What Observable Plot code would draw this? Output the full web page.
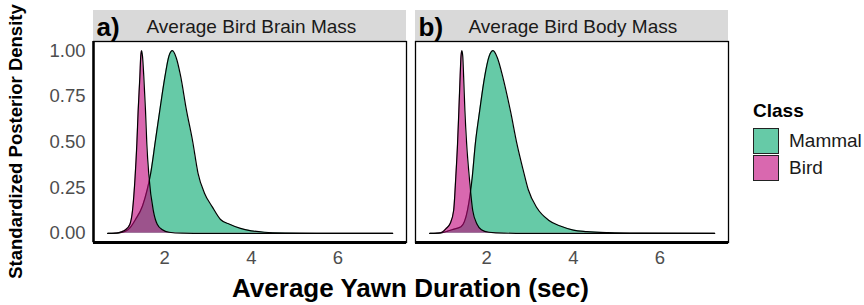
<!DOCTYPE html>
<html>
<head>
<meta charset="utf-8">
<script src="https://cdn.jsdelivr.net/npm/d3@7"></script>
<script src="https://cdn.jsdelivr.net/npm/@observablehq/plot@0.6"></script>
<style>
  html, body { margin: 0; padding: 0; background: #fff; }
  body { font-family: "Liberation Sans", Arial, Helvetica, sans-serif; }
  #wrap { position: relative; width: 864px; height: 305px; }
  #legend { position: absolute; left: 753px; top: 100px; font-size: 19px; color: #1a1a1a; }
  #legend .ttl { font-weight: bold; color: #000; margin-bottom: 5px; }
  #legend .row { display: flex; align-items: center; height: 27px; }
  #legend .sw { width: 26px; height: 26px; box-sizing: border-box; border: 1.3px solid #222; margin-right: 10px; background: #fff; position: relative; }
  #legend .sw i { position: absolute; inset: 0; }
</style>
</head>
<body>
<div id="wrap"><div id="chart"></div><div id="legend"></div></div>
<script>
// ---- data ----
const panels = ["a", "b"];
const panelTags = ["a)", "b)"];
const panelTitles = ["Average Bird Brain Mass", "Average Bird Body Mass"];
const classes = ["Mammal", "Bird"];
const xTicks = [2, 4, 6];
const yTicks = [0, 0.25, 0.5, 0.75, 1];

// Panel a: Average Bird Brain Mass
const brainMammalX = [0.69, 0.95, 1.1, 1.2, 1.33, 1.49, 1.6, 1.68, 1.79, 1.9, 2.01, 2.1, 2.18, 2.27, 2.37, 2.5, 2.65, 2.77, 2.92, 3.1, 3.29, 3.5, 3.75, 4.0, 4.3, 4.8, 5.5, 7.26];
const brainMammalY = [0, 0.003, 0.012, 0.03, 0.076, 0.15, 0.24, 0.33, 0.51, 0.69, 0.86, 0.97, 1.0, 0.96, 0.86, 0.68, 0.5, 0.33, 0.22, 0.145, 0.076, 0.05, 0.027, 0.014, 0.006, 0.002, 0.0005, 0];
const brainBirdX = [0.69, 0.9, 1.0, 1.1, 1.2, 1.26, 1.32, 1.36, 1.39, 1.43, 1.45, 1.47, 1.49, 1.52, 1.56, 1.59, 1.64, 1.74, 1.83, 1.95, 2.1, 2.4, 3.0, 7.26];
const brainBirdY = [0, 0.002, 0.008, 0.02, 0.05, 0.125, 0.31, 0.49, 0.67, 0.86, 0.97, 1.0, 0.97, 0.86, 0.67, 0.49, 0.31, 0.125, 0.05, 0.02, 0.006, 0.001, 0, 0];

// Panel b: Average Bird Body Mass
const bodyMammalX = [0.69, 0.95, 1.1, 1.2, 1.41, 1.56, 1.67, 1.74, 1.84, 1.95, 2.06, 2.15, 2.25, 2.38, 2.55, 2.7, 2.84, 2.96, 3.16, 3.43, 3.7, 4.0, 4.31, 4.8, 5.5, 7.26];
const bodyMammalY = [0, 0.003, 0.012, 0.02, 0.036, 0.127, 0.31, 0.49, 0.67, 0.85, 0.97, 1.0, 0.96, 0.85, 0.67, 0.49, 0.35, 0.24, 0.14, 0.072, 0.04, 0.018, 0.01, 0.004, 0.001, 0];
const bodyBirdX = [0.69, 0.9, 0.98, 1.06, 1.16, 1.24, 1.29, 1.33, 1.36, 1.39, 1.41, 1.43, 1.45, 1.47, 1.5, 1.54, 1.6, 1.68, 1.78, 1.88, 2.05, 2.4, 3.0, 7.26];
const bodyBirdY = [0, 0.002, 0.008, 0.025, 0.054, 0.125, 0.31, 0.49, 0.67, 0.86, 0.97, 1.0, 0.97, 0.86, 0.67, 0.49, 0.31, 0.125, 0.05, 0.02, 0.006, 0.001, 0, 0];

// ---- build table ----
const series = [
  {panel: "a", cls: "Mammal", xs: brainMammalX, ys: brainMammalY},
  {panel: "a", cls: "Bird", xs: brainBirdX, ys: brainBirdY},
  {panel: "b", cls: "Mammal", xs: bodyMammalX, ys: bodyMammalY},
  {panel: "b", cls: "Bird", xs: bodyBirdX, ys: bodyBirdY}
];
const rows = series.flatMap(s => s.xs.map((x, i) => ({panel: s.panel, cls: s.cls, x, y: s.ys[i]})));
const mammalRows = rows.filter(d => d.cls === "Mammal");
const birdRows = rows.filter(d => d.cls === "Bird");
const strips = panels.map((p, i) => ({panel: p, tag: panelTags[i], title: panelTitles[i]}));

const green = "#66CAA7";
const pinkBase = "#C0047A";
const pinkOpacity = 0.6;

const xDomain = [0.36, 7.58];
const yDomain = [-0.05, 1.05];
const marginTop = 41, marginBottom = 63, height = 305;
const stripPx = 31;
const yPerPx = (yDomain[1] - yDomain[0]) / (height - marginTop - marginBottom);
const stripTop = yDomain[1] + stripPx * yPerPx;

const chart = Plot.plot({
  width: 864,
  height,
  marginLeft: 93,
  marginRight: 136,
  marginTop,
  marginBottom,
  style: {fontFamily: "Liberation Sans, Arial, Helvetica, sans-serif", background: "#fff"},
  fx: {domain: panels, paddingInner: 0.028, paddingOuter: 0, axis: null, label: null},
  x: {domain: xDomain, label: null},
  y: {domain: yDomain, label: null},
  marks: [
    Plot.rect(strips, {fx: "panel", x1: () => xDomain[0], x2: () => xDomain[1], y1: () => yDomain[1], y2: () => stripTop, fill: "#D9D9D9"}),
    Plot.areaY(mammalRows, {fx: "panel", x: "x", y: "y", fill: green, curve: "monotone-x"}),
    Plot.lineY(mammalRows, {fx: "panel", x: "x", y: "y", stroke: "#000", strokeWidth: 1.2, curve: "monotone-x"}),
    Plot.areaY(birdRows, {fx: "panel", x: "x", y: "y", fill: pinkBase, fillOpacity: pinkOpacity, curve: "monotone-x"}),
    Plot.lineY(birdRows, {fx: "panel", x: "x", y: "y", stroke: "#000", strokeWidth: 1.2, curve: "monotone-x"}),
    Plot.frame({stroke: "#000", strokeWidth: 1.3}),
    Plot.ruleY([yDomain[0]], {stroke: "#000", strokeWidth: 3}),
    Plot.ruleX(strips.filter(d => d.panel === "a"), {fx: "panel", x: () => xDomain[0], stroke: "#000", strokeWidth: 2.5}),
    Plot.text(strips, {fx: "panel", text: "tag", frameAnchor: "top-left", dx: 3, dy: -6, lineAnchor: "bottom", textAnchor: "start", fontSize: 26, fontWeight: "bold", fill: "#000"}),
    Plot.text(strips, {fx: "panel", text: "title", frameAnchor: "top-left", dx: 53, dy: -9, lineAnchor: "bottom", textAnchor: "start", fontSize: 19, fill: "#1a1a1a"}),
    Plot.axisY({ticks: yTicks, tickFormat: d3.format(".2f"), tickSize: 0, tickPadding: 8, fontSize: 18.5, color: "#4D4D4D", label: null}),
    Plot.axisX({ticks: xTicks, tickFormat: d3.format("d"), tickSize: 0, tickPadding: 8, fontSize: 18.5, color: "#4D4D4D", label: null})
  ]
});

const svg = d3.select(chart);
svg.append("text")
  .attr("transform", `translate(16,${marginTop + (height - marginTop - marginBottom) / 2}) rotate(-90)`)
  .attr("text-anchor", "middle")
  .attr("dy", "0.35em")
  .style("font-size", "18.5px").style("font-weight", "bold").style("fill", "#000")
  .text("Standardized Posterior Density");
svg.append("text")
  .attr("x", (93 + (864 - 136)) / 2)
  .attr("y", 297)
  .attr("text-anchor", "middle")
  .style("font-size", "26px").style("font-weight", "bold").style("fill", "#000")
  .text("Average Yawn Duration (sec)");

document.getElementById("chart").appendChild(chart);

// legend (HTML)
const legend = d3.select("#legend");
legend.append("div").attr("class", "ttl").text("Class");
const swatch = {Mammal: {fill: green, op: 1}, Bird: {fill: pinkBase, op: pinkOpacity}};
classes.forEach(c => {
  const row = legend.append("div").attr("class", "row");
  row.append("div").attr("class", "sw").append("i").style("background", swatch[c].fill).style("opacity", swatch[c].op);
  row.append("span").text(c);
});
</script>
</body>
</html>
